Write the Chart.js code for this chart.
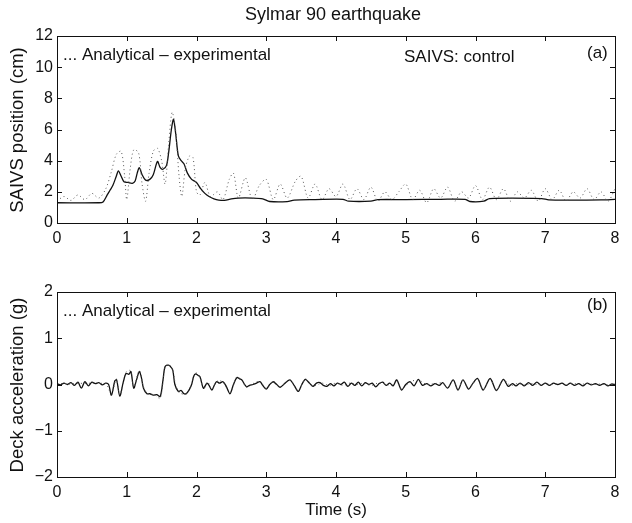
<!DOCTYPE html>
<html>
<head>
<meta charset="utf-8">
<script src="https://cdn.jsdelivr.net/npm/chart.js@4.4.1/dist/chart.umd.min.js"></script>
<style>
  body { margin: 0; background: #fff; }
  canvas { position: absolute; left: 0; }
  #pos-chart { top: 0; }
  #acc-chart { top: 250px; }
</style>
</head>
<body>
<canvas id="pos-chart" width="632" height="250"></canvas>
<canvas id="acc-chart" width="632" height="273"></canvas>
<script>
/*//////////////////////////////// 
///            Data            ///
////////////////////////////////*/

const timeTicks = [0, 1, 2, 3, 4, 5, 6, 7, 8];
const posTicks = [0, 2, 4, 6, 8, 10, 12];
const accTicks = [-2, -1, 0, 1, 2];

// (a) SAIVS position, experimental (solid)
const posExpTime = [0, 0.6, 0.66, 0.72, 0.76, 0.8, 0.85, 0.88, 0.92, 0.96, 1.02, 1.08, 1.12, 1.15, 1.18, 1.22, 1.27, 1.33, 1.38, 1.44,
  1.48, 1.52, 1.57, 1.6, 1.64, 1.67, 1.7, 1.74, 1.78, 1.82, 1.87, 1.93, 2.0, 2.06, 2.12, 2.18, 2.25, 2.32, 2.4, 2.5,
  2.6, 2.8, 2.95, 3.05, 3.3, 3.4, 3.7, 4.1, 4.18, 4.5, 4.6, 5.0, 5.5, 5.85, 5.92, 6.12, 6.2, 6.95, 7.05, 7.5, 7.8, 8.0];
const posExp = [1.3, 1.3, 1.35, 1.8, 2.1, 2.4, 3.0, 3.35, 3.0, 2.65, 2.6, 2.55, 2.7, 3.2, 3.55, 3.1, 2.75, 2.8, 3.1, 3.95,
  3.55, 3.45, 3.7, 4.5, 6.0, 6.65, 5.8, 4.3, 4.0, 3.8, 3.2, 2.8, 2.6, 2.2, 1.9, 1.7, 1.55, 1.47, 1.45, 1.55,
  1.6, 1.6, 1.55, 1.38, 1.37, 1.47, 1.5, 1.52, 1.4, 1.4, 1.5, 1.5, 1.52, 1.52, 1.38, 1.4, 1.57, 1.57, 1.48, 1.47, 1.48, 1.52];

// (a) SAIVS position, analytical (dotted)
const posAnaTime = [0, 0.1, 0.2, 0.3, 0.4, 0.5, 0.6, 0.7, 0.78, 0.85, 0.92, 0.97, 1.0, 1.05, 1.1, 1.17, 1.22, 1.27, 1.32, 1.38,
  1.44, 1.5, 1.55, 1.6, 1.65, 1.7, 1.75, 1.79, 1.84, 1.9, 1.95, 2.0, 2.05, 2.12, 2.2, 2.3, 2.38, 2.47, 2.53, 2.6,
  2.7, 2.8, 2.9, 3.0, 3.1, 3.2, 3.3, 3.42, 3.5, 3.6, 3.7, 3.8, 3.9, 4.0, 4.1, 4.2, 4.3, 4.4, 4.5, 4.6,
  4.7, 4.8, 4.9, 5.0, 5.1, 5.2, 5.3, 5.4, 5.5, 5.6, 5.7, 5.8, 5.9, 6.0, 6.1, 6.2, 6.3, 6.4, 6.5, 6.6,
  6.7, 6.8, 6.9, 7.0, 7.1, 7.2, 7.3, 7.4, 7.5, 7.6, 7.7, 7.8, 7.9, 8.0];
const posAna = [1.4, 1.7, 1.45, 1.8, 1.5, 1.9, 1.6, 2.2, 3.3, 4.4, 4.6, 3.0, 1.5, 3.5, 4.7, 4.5, 2.5, 1.4, 3.2, 4.6,
  4.8, 4.0, 2.5, 5.0, 7.1, 6.0, 3.0, 1.7, 3.5, 4.3, 4.2, 2.0, 1.8, 2.6, 1.7, 2.0, 1.5, 2.8, 3.2, 1.6,
  2.9, 1.5, 2.4, 2.8, 1.5, 2.5, 1.6, 2.7, 3.0, 1.6, 2.5, 1.5, 2.2, 1.7, 2.5, 1.5, 2.2, 1.5, 2.3, 1.4,
  2.0, 1.5, 2.0, 2.5, 1.5, 2.1, 1.3, 2.2, 1.6, 2.3, 1.4, 2.0, 1.6, 2.4, 1.5, 2.3, 1.5, 2.2, 1.4, 2.0,
  1.6, 2.1, 1.4, 2.2, 1.5, 2.1, 1.4, 2.0, 1.6, 2.2, 1.5, 2.0, 1.4, 2.2];

// (b) deck acceleration, experimental (solid)
const accExpTime = [0, 0.05, 0.1, 0.15, 0.2, 0.25, 0.3, 0.35, 0.4, 0.45, 0.5, 0.55, 0.6, 0.65, 0.7, 0.74, 0.78, 0.83, 0.855, 0.9,
  0.95, 0.99, 1.03, 1.06, 1.1, 1.14, 1.18, 1.21, 1.24, 1.29, 1.33, 1.38, 1.43, 1.48, 1.52, 1.55, 1.6, 1.63, 1.66, 1.69,
  1.74, 1.78, 1.82, 1.86, 1.9, 1.93, 1.96, 1.99, 2.02, 2.05, 2.1, 2.15, 2.18, 2.22, 2.26, 2.29, 2.33, 2.38, 2.43, 2.48,
  2.53, 2.58, 2.62, 2.65, 2.69, 2.72, 2.76, 2.81, 2.86, 2.91, 2.95, 3.0, 3.05, 3.1, 3.15, 3.2, 3.27, 3.34, 3.4, 3.46,
  3.51, 3.56, 3.62, 3.67, 3.72, 3.77, 3.82, 3.87, 3.92, 3.97, 4.02, 4.07, 4.12, 4.17, 4.22, 4.27, 4.32, 4.37, 4.42, 4.47,
  4.52, 4.57, 4.62, 4.67, 4.72, 4.77, 4.82, 4.87, 4.94, 5.0, 5.06, 5.12, 5.18, 5.24, 5.3, 5.36, 5.42, 5.48, 5.53, 5.6,
  5.68, 5.75, 5.82, 5.9, 5.96, 6.03, 6.11, 6.21, 6.3, 6.4, 6.47, 6.53, 6.58, 6.64, 6.7, 6.76, 6.82, 6.88, 6.94, 7.0,
  7.06, 7.12, 7.18, 7.24, 7.3, 7.36, 7.42, 7.48, 7.54, 7.6, 7.66, 7.72, 7.78, 7.84, 7.9, 7.95, 8.0];
const accExp = [0.02, -0.01, 0.03, 0.0, 0.04, -0.02, 0.05, -0.08, 0.06, -0.03, 0.05, 0.02, 0.04, -0.01, 0.03, 0.0, -0.23, 0.08, 0.1, -0.25,
  0.05, 0.24, 0.22, 0.28, -0.08, 0.1, 0.28, 0.15, -0.08, -0.2, -0.2, -0.23, -0.22, -0.26, 0.1, 0.39, 0.42, 0.38, 0.31, 0.0,
  -0.15, -0.13, -0.2, -0.19, -0.1, 0.0, 0.18, 0.23, 0.2, 0.17, -0.08, 0.03, -0.02, -0.12, 0.0, 0.06, 0.03, 0.06, -0.05, -0.2,
  0.0, 0.15, 0.12, 0.1, 0.0, -0.05, -0.02, 0.0, 0.03, 0.06, -0.02, -0.1, 0.0, 0.06, 0.0, -0.06, 0.03, 0.1, -0.02, -0.15,
  0.0, 0.11, 0.03, -0.04, 0.03, 0.04, -0.02, -0.04, 0.02, -0.03, 0.03, 0.0, 0.05, -0.04, 0.03, -0.02, 0.05, -0.03, 0.04, 0.0,
  0.03, -0.05, 0.02, 0.05, -0.02, 0.03, -0.03, 0.1, -0.12, 0.0, 0.06, -0.03, 0.11, -0.02, 0.02, -0.03, 0.02, -0.02, 0.04, -0.08,
  0.1, -0.12, 0.1, -0.1, 0.02, 0.13, -0.12, 0.13, -0.13, 0.11, -0.04, 0.02, -0.03, 0.03, -0.03, 0.04, -0.02, 0.05, -0.02, 0.03,
  -0.02, 0.03, 0.0, 0.03, -0.02, 0.03, -0.02, 0.02, -0.03, 0.03, -0.01, 0.02, -0.02, 0.02, -0.03, 0.01, 0.0];

// (b) deck acceleration, analytical (dotted)
const accAnaTime = [0, 0.1, 0.2, 0.3, 0.4, 0.5, 0.6, 0.7, 0.78, 0.85, 0.9, 0.99, 1.05, 1.1, 1.18, 1.24, 1.3, 1.4, 1.48, 1.55,
  1.6, 1.66, 1.7, 1.76, 1.86, 1.93, 1.99, 2.05, 2.1, 2.16, 2.22, 2.3, 2.38, 2.48, 2.58, 2.65, 2.72, 2.81, 2.91, 3.0,
  3.1, 3.2, 3.34, 3.46, 3.56, 3.67, 3.8, 3.9, 4.0, 4.1, 4.2, 4.3, 4.4, 4.5, 4.6, 4.7, 4.8, 4.87, 4.94, 5.06,
  5.18, 5.3, 5.42, 5.53, 5.6, 5.68, 5.75, 5.82, 5.9, 6.03, 6.11, 6.21, 6.3, 6.4, 6.5, 6.6, 6.7, 6.8, 6.9, 7.0,
  7.1, 7.2, 7.3, 7.4, 7.5, 7.6, 7.7, 7.8, 7.9, 8.0];
const accAna = [0.01, 0.02, 0.01, 0.03, 0.02, 0.03, 0.02, 0.02, -0.2, 0.12, -0.22, 0.27, 0.3, -0.05, 0.3, -0.05, -0.2, -0.22, -0.3, 0.38,
  0.44, 0.3, 0.0, -0.18, -0.2, 0.02, 0.25, 0.15, -0.1, 0.05, -0.1, 0.08, 0.05, -0.18, 0.17, 0.08, -0.06, 0.02, 0.07, -0.08,
  0.07, -0.05, 0.1, -0.13, 0.12, -0.03, 0.03, -0.02, 0.03, -0.02, 0.03, 0.0, 0.03, -0.02, 0.03, 0.02, -0.02, 0.09, -0.1, 0.05,
  0.1, 0.0, 0.02, 0.03, -0.07, 0.1, -0.11, 0.1, -0.09, 0.13, -0.11, 0.12, -0.12, 0.1, -0.02, 0.02, -0.01, 0.02, 0.0, 0.02,
  0.0, 0.02, -0.01, 0.02, 0.0, 0.02, 0.0, 0.01, -0.01, 0.0];

/*//////////////////////////////// 
///       Frame + texts        ///
////////////////////////////////*/

const FONT = '"Liberation Sans", Arial, Helvetica, sans-serif';
const INK = '#111';

function points(xs, ys) {
  return xs.map((x, i) => ({x: x, y: ys[i]}));
}

const frame = {
  id: 'frame',
  afterDraw(chart, args, opts) {
    const ctx = chart.ctx;
    const a = chart.chartArea;
    const sx = chart.scales.x;
    const sy = chart.scales.y;
    ctx.save();
    ctx.strokeStyle = INK;
    ctx.lineWidth = 1;
    ctx.strokeRect(Math.round(a.left) + 0.5, Math.round(a.top) + 0.5,
      Math.round(a.right - a.left), Math.round(a.bottom - a.top));

    // MATLAB style ticks, pointing inwards on all four sides
    ctx.beginPath();
    sx.ticks.forEach(t => {
      const px = Math.round(sx.getPixelForValue(t.value)) + 0.5;
      ctx.moveTo(px, a.bottom); ctx.lineTo(px, a.bottom - 5);
      ctx.moveTo(px, a.top); ctx.lineTo(px, a.top + 5);
    });
    sy.ticks.forEach(t => {
      const py = Math.round(sy.getPixelForValue(t.value)) + 0.5;
      ctx.moveTo(a.left, py); ctx.lineTo(a.left + 5, py);
      ctx.moveTo(a.right, py); ctx.lineTo(a.right - 5, py);
    });
    ctx.stroke();

    ctx.fillStyle = INK;
    ctx.textBaseline = 'middle';
    opts.texts.forEach(t => {
      ctx.font = t.size + 'px ' + FONT;
      ctx.textAlign = t.align || 'left';
      if (t.rotate) {
        ctx.save();
        ctx.translate(t.x, t.y);
        ctx.rotate(-Math.PI / 2);
        ctx.textAlign = 'center';
        ctx.fillText(t.text, 0, 0);
        ctx.restore();
      } else {
        ctx.fillText(t.text, t.x, t.y);
      }
    });
    ctx.restore();
  }
};

function makePanel(id, cfg) {
  const ctx = document.getElementById(id).getContext('2d');
  return new Chart(ctx, {
    type: 'line',
    data: {
      datasets: [{
        label: 'Analytical',
        data: points(cfg.anaTime, cfg.ana),
        borderColor: '#555',
        borderWidth: 1,
        borderDash: [1, 3],
        pointRadius: 0,
        tension: 0.3,
        fill: false
      }, {
        label: 'Experimental',
        data: points(cfg.expTime, cfg.exp),
        borderColor: INK,
        borderWidth: 1.3,
        pointRadius: 0,
        tension: 0.3,
        fill: false
      }]
    },
    options: {
      responsive: false,
      animation: false,
      events: [],
      layout: {
        padding: {left: 0, right: 17, top: cfg.top, bottom: 0}
      },
      scales: {
        x: {
          type: 'linear',
          min: 0,
          max: 8,
          afterBuildTicks: s => { s.ticks = timeTicks.map(v => ({value: v})); },
          afterFit: s => { s.height = cfg.xHeight; },
          grid: {display: false, drawTicks: false},
          border: {display: false},
          ticks: {color: INK, padding: 6, font: {family: FONT, size: 16}, maxRotation: 0}
        },
        y: {
          min: cfg.yTicks[0],
          max: cfg.yTicks[cfg.yTicks.length - 1],
          afterBuildTicks: s => { s.ticks = cfg.yTicks.map(v => ({value: v})); },
          afterFit: s => { s.width = 57; },
          grid: {display: false, drawTicks: false},
          border: {display: false},
          ticks: {
            color: INK,
            padding: 4,
            font: {family: FONT, size: 16},
            callback: v => String(v).replace('-', '\u2212')
          }
        }
      },
      plugins: {
        legend: {display: false},
        tooltip: {enabled: false},
        frame: {texts: cfg.texts}
      }
    },
    plugins: [frame]
  });
}

/*//////////////////////////////// 
///     (a) SAIVS position     ///
////////////////////////////////*/

makePanel('pos-chart', {
  expTime: posExpTime, exp: posExp,
  anaTime: posAnaTime, ana: posAna,
  yTicks: posTicks,
  top: 36,
  xHeight: 27,
  texts: [
    {text: 'Sylmar 90 earthquake', x: 333, y: 15, size: 18, align: 'center'},
    {text: '... Analytical \u2013 experimental', x: 63, y: 55, size: 17},
    {text: 'SAIVS: control', x: 404, y: 57, size: 17},
    {text: '(a)', x: 587, y: 53, size: 17},
    {text: 'SAIVS position (cm)', x: 18, y: 130, size: 18.5, rotate: true}
  ]
});

/*//////////////////////////////// 
///   (b) Deck acceleration    ///
////////////////////////////////*/

makePanel('acc-chart', {
  expTime: accExpTime, exp: accExp,
  anaTime: accAnaTime, ana: accAna,
  yTicks: accTicks,
  top: 42,
  xHeight: 46,
  texts: [
    {text: '... Analytical \u2013 experimental', x: 63, y: 61, size: 17},
    {text: '(b)', x: 587, y: 55, size: 17},
    {text: 'Deck acceleration (g)', x: 18, y: 135, size: 18.5, rotate: true},
    {text: 'Time (s)', x: 336, y: 260, size: 17, align: 'center'}
  ]
});
</script>
</body>
</html>
